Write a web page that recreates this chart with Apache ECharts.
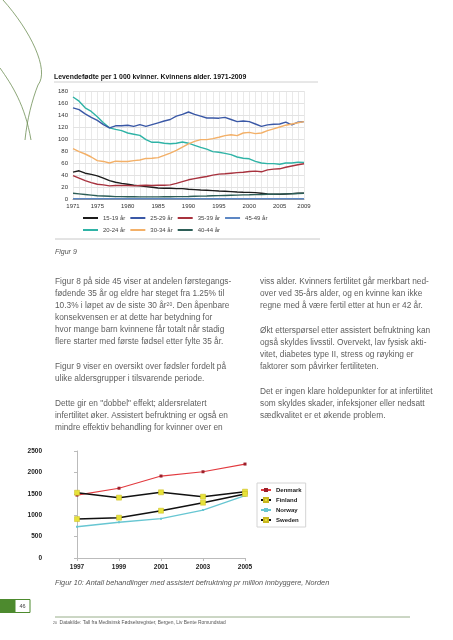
<!DOCTYPE html>
<html><head><meta charset="utf-8">
<script src="https://cdn.jsdelivr.net/npm/echarts@6/dist/echarts.min.js"></script>
<style>html,body{margin:0;padding:0;background:#fff}#c{width:453px;height:640px}</style>
</head><body><div id="c"></div>
<script>
// ---- Figure 9 data (births per 1000 women by age, 1971-2009)
const years = [];
for (let y = 1971; y <= 2009; y++) years.push(String(y));
const labelYears = ['1971','1975','1980','1985','1990','1995','2000','2005','2009'];
const a15_19 = [44.7,47,43,41,38.6,34.7,30.7,28,26,24.6,23,21.8,20.7,19.6,18.4,17.9,17.9,17.3,17.3,16.2,15.7,15,14.5,14,13.4,12.9,12.3,11.7,11.2,11,10.6,9.5,8.4,7.8,7.8,8.4,9,9.5,9.5];
const a20_24 = [170,163,152,146,137,127,118.5,116,114,110,108,106,99,94.5,94.5,93,92,93,95,93,89.5,86,83,79,78,76,74,70,68,67,62.6,60,59,59,58,60,60,61.5,61];
const a25_29 = [152,149,142,136,131,124,118.5,122,122,123,121,124,121,124,127,130,132.5,138,141,145,141,138,135,135,134.7,136,132.5,129,130,129,125,121,123.5,124.7,125,128,123.5,128,129];
const a30_34 = [84,79,75,70,64,62.6,60,63,62.6,62.6,64,65,67.6,68,69,72.7,76.6,81,86.6,92,96,99,99,100.6,103,105.6,107,105.6,110,111,109,110,114,117,120,123,125,127,129];
const a35_39 = [39,34.7,30.7,27.4,24.6,23.5,21.8,22.4,22.4,22.4,21.8,22.4,23,22.4,23,23,23.5,26,29,32,34,35.8,37.5,39.7,41.4,42,43,44,44.7,45.8,46.4,45.3,48.6,49.8,50.3,53,55,57,58.7];
const a40_44 = [9.5,8.5,7.5,6.5,5.5,5,4.5,4,4,3.8,3.7,3.6,3.6,3.6,3.6,3.7,3.8,3.9,4,4.2,4.5,4.8,5,5.3,5.6,5.9,6.2,6.5,6.8,7,7.3,7.5,7.8,8,8.2,8.5,8.8,9.2,9.5];
const a45_49 = [0.5,0.5,0.4,0.4,0.4,0.3,0.3,0.3,0.3,0.3,0.3,0.3,0.3,0.3,0.3,0.3,0.3,0.3,0.3,0.3,0.3,0.3,0.3,0.3,0.3,0.3,0.3,0.3,0.3,0.3,0.4,0.4,0.4,0.4,0.4,0.4,0.4,0.4,0.4];

// ---- Figure 10 data (treatments per million inhabitants)
const yearsB = ['1997','1999','2001','2003','2005'];
const denmark = [1470,1630,1915,2015,2195];
const finland = [1525,1410,1535,1432,1550];
const norway  = [730,835,918,1120,1455];
const sweden  = [910,942,1105,1292,1495];

const leftCol = [
  {y:282, t:'Figur 8 på side 45 viser at andelen førstegangs-'},
  {y:294, t:'fødende 35 år og eldre har steget fra 1.25% til'},
  {y:306, t:'10.3% i løpet av de siste 30 år{s|20}. Den åpenbare'},
  {y:318, t:'konsekvensen er at dette har betydning for'},
  {y:330, t:'hvor mange barn kvinnene får totalt når stadig'},
  {y:342, t:'flere starter med første fødsel etter fylte 35 år.'},
  {y:367, t:'Figur 9 viser en oversikt over fødsler fordelt på'},
  {y:379, t:'ulike aldersgrupper i tilsvarende periode.'},
  {y:404, t:'Dette gir en "dobbel" effekt; aldersrelatert'},
  {y:416, t:'infertilitet øker. Assistert befruktning er også en'},
  {y:428, t:'mindre effektiv behandling for kvinner over en'}
];
const rightCol = [
  {y:282, t:'viss alder. Kvinners fertilitet går merkbart ned-'},
  {y:294, t:'over ved 35-års alder, og en kvinne kan ikke'},
  {y:306, t:'regne med å være fertil etter at hun er 42 år.'},
  {y:331, t:'Økt etterspørsel etter assistert befruktning kan'},
  {y:343, t:'også skyldes livsstil. Overvekt, lav fysisk akti-'},
  {y:355, t:'vitet, diabetes type II, stress og røyking er'},
  {y:367, t:'faktorer som påvirker fertiliteten.'},
  {y:392, t:'Det er ingen klare holdepunkter for at infertilitet'},
  {y:404, t:'som skyldes skader, infeksjoner eller nedsatt'},
  {y:416, t:'sædkvalitet er et økende problem.'}
];

const FONT = '"Liberation Sans", Arial, sans-serif';
const bodyStyle = (x, y, t) => ({
  type: 'text', x: x, y: y,
  style: { text: t, font: '8.3px ' + FONT, fill: '#5e5e5e', verticalAlign: 'middle',
    rich: { s: { fontSize: 5, verticalAlign: 'top', fill: '#5e5e5e' } } }
});

const graphics = [];
// decorative curves
graphics.push({type:'bezierCurve', shape:{x1:3, y1:0, cpx1:30, cpy1:30, cpx2:50, cpy2:70, x2:38, y2:85}, style:{stroke:'#6f8f55', lineWidth:0.8, fill:null}});
graphics.push({type:'bezierCurve', shape:{x1:38, y1:85, cpx1:32, cpy1:100, cpx2:27, cpy2:120, x2:25, y2:140}, style:{stroke:'#6f8f55', lineWidth:0.8, fill:null}});
graphics.push({type:'bezierCurve', shape:{x1:0, y1:68, cpx1:12, cpy1:85, cpx2:25, cpy2:105, x2:31, y2:140}, style:{stroke:'#6f8f55', lineWidth:0.8, fill:null}});
// Figure 9 title and rules
graphics.push({type:'text', x:54, y:77, style:{text:'Levendefødte per 1 000 kvinner. Kvinnens alder. 1971-2009', font:'bold 6.9px ' + FONT, fill:'#111', verticalAlign:'middle'}});
graphics.push({type:'line', shape:{x1:54, y1:82, x2:318, y2:82}, style:{stroke:'#d0d0d0', lineWidth:1}});
graphics.push({type:'line', shape:{x1:55, y1:239, x2:320, y2:239}, style:{stroke:'#c8c8c8', lineWidth:1}});
graphics.push({type:'text', x:55, y:252, style:{text:'Figur 9', font:'italic 7px ' + FONT, fill:'#555', verticalAlign:'middle'}});
leftCol.forEach(l => graphics.push(bodyStyle(55, l.y, l.t)));
rightCol.forEach(l => graphics.push(bodyStyle(260, l.y, l.t)));
graphics.push({type:'text', x:55, y:583, style:{text:'Figur 10: Antall behandlinger med assistert befruktning pr million innbyggere, Norden', font:'italic 7.3px ' + FONT, fill:'#555', verticalAlign:'middle'}});
// page number
graphics.push({type:'rect', shape:{x:0, y:599, width:15, height:14}, style:{fill:'#4d8a2e'}});
graphics.push({type:'rect', shape:{x:15, y:599.5, width:15, height:13}, style:{fill:'#fff', stroke:'#4d8a2e', lineWidth:1}});
graphics.push({type:'text', x:22.5, y:606, style:{text:'46', font:'5.5px ' + FONT, fill:'#444', align:'center', verticalAlign:'middle'}});
// footnote
graphics.push({type:'line', shape:{x1:55, y1:617, x2:410, y2:617}, style:{stroke:'#7e9a6c', lineWidth:0.8}});
graphics.push({type:'text', x:53, y:623, style:{text:'{s|20}  Datakilde: Tall fra Medisinsk Fødselsregister, Bergen, Liv Bente Romundstad', font:'4.9px ' + FONT, fill:'#555', verticalAlign:'middle', rich:{s:{fontSize:3.5, fill:'#555'}}}});

const c9 = {
  a15_19:'#1c1c1c', a20_24:'#2fb3a6', a25_29:'#3a58a6', a30_34:'#f3b068',
  a35_39:'#a8323e', a40_44:'#2d5e57', a45_49:'#5d87c4'
};
const mk = (name, data, color) => ({
  name: name, type: 'line', data: data, xAxisIndex: 0, yAxisIndex: 0,
  symbol: 'none', smooth: false, lineStyle: { color: color, width: 1.4 }, itemStyle: { color: color }, z: 3
});

const chart = echarts.init(document.getElementById('c'), null, { renderer: 'canvas' });
chart.setOption({
  animation: false,
  backgroundColor: '#fff',
  textStyle: { fontFamily: FONT },
  grid: [
    { left: 73, right: 453 - 304, top: 91, height: 108 },
    { left: 77, right: 453 - 245, top: 451, height: 107 }
  ],
  xAxis: [
    { gridIndex: 0, type: 'category', data: years, boundaryGap: false,
      axisLine: { lineStyle: { color: '#999', width: 1 } }, axisTick: { show: false },
      axisLabel: { interval: (i, v) => labelYears.indexOf(v) >= 0, fontSize: 6, color: '#333', margin: 4 },
      splitLine: { show: true, interval: 0, lineStyle: { color: '#e3e3e3', width: 0.8 } } },
    { gridIndex: 1, type: 'category', data: yearsB, boundaryGap: false,
      axisLine: { lineStyle: { color: '#bbb', width: 1 } }, axisTick: { show: true, length: 3, lineStyle: { color: '#bbb' } },
      axisLabel: { fontSize: 6.5, fontWeight: 'bold', color: '#222', margin: 6 },
      splitLine: { show: false } }
  ],
  yAxis: [
    { gridIndex: 0, type: 'value', min: 0, max: 180, interval: 20,
      axisLine: { show: false }, axisTick: { show: false },
      axisLabel: { fontSize: 6, color: '#333', margin: 5 },
      splitLine: { lineStyle: { color: '#dcdcdc', width: 0.8 } } },
    { gridIndex: 1, type: 'value', min: 0, max: 2500, interval: 500,
      axisLine: { show: true, lineStyle: { color: '#bbb' } }, axisTick: { show: true, length: 3, lineStyle: { color: '#bbb' } },
      axisLabel: { fontSize: 6.5, fontWeight: 'bold', color: '#222', margin: 35, formatter: v => String(v) },
      splitLine: { show: false } }
  ],
  legend: [
    { left: 83, top: 215, itemWidth: 15, itemHeight: 2, itemGap: 5, icon: 'rect', padding: 0,
      textStyle: { fontSize: 6, color: '#444', width: 32 },
      data: ['15-19 år', '25-29 år', '35-39 år', '45-49 år'] },
    { left: 83, top: 227, itemWidth: 15, itemHeight: 2, itemGap: 5, icon: 'rect', padding: 0,
      textStyle: { fontSize: 6, color: '#444', width: 32 },
      data: ['20-24 år', '30-34 år', '40-44 år'] },
    { orient: 'vertical', left: 257, top: 483, itemWidth: 10, itemHeight: 5, itemGap: 4,
      padding: [4, 4, 4, 3], borderColor: '#d4d4d4', borderWidth: 1, backgroundColor: '#fff',
      textStyle: { fontSize: 6, fontWeight: 'bold', color: '#222' },
      data: ['Denmark', 'Finland', 'Norway', 'Sweden'] }
  ],
  series: [
    mk('15-19 år', a15_19, c9.a15_19),
    mk('20-24 år', a20_24, c9.a20_24),
    mk('25-29 år', a25_29, c9.a25_29),
    mk('30-34 år', a30_34, c9.a30_34),
    mk('35-39 år', a35_39, c9.a35_39),
    mk('40-44 år', a40_44, c9.a40_44),
    mk('45-49 år', a45_49, c9.a45_49),
    { name: 'Denmark', type: 'line', xAxisIndex: 1, yAxisIndex: 1, data: denmark,
      symbol: 'rect', symbolSize: 3, lineStyle: { color: '#e23a3f', width: 1.2 }, itemStyle: { color: '#9c1f2a' } },
    { name: 'Finland', type: 'line', xAxisIndex: 1, yAxisIndex: 1, data: finland,
      symbol: 'rect', symbolSize: 5, lineStyle: { color: '#111', width: 1.5 }, itemStyle: { color: '#e6e23a', borderColor: '#c9b820', borderWidth: 0.5 } },
    { name: 'Norway', type: 'line', xAxisIndex: 1, yAxisIndex: 1, data: norway,
      symbol: 'rect', symbolSize: 2, lineStyle: { color: '#67c6d2', width: 1.3 }, itemStyle: { color: '#67c6d2' } },
    { name: 'Sweden', type: 'line', xAxisIndex: 1, yAxisIndex: 1, data: sweden,
      symbol: 'rect', symbolSize: 5, lineStyle: { color: '#111', width: 1.5 }, itemStyle: { color: '#e6e23a', borderColor: '#c9b820', borderWidth: 0.5 } }
  ],
  graphic: graphics
});
</script>
</body></html>
